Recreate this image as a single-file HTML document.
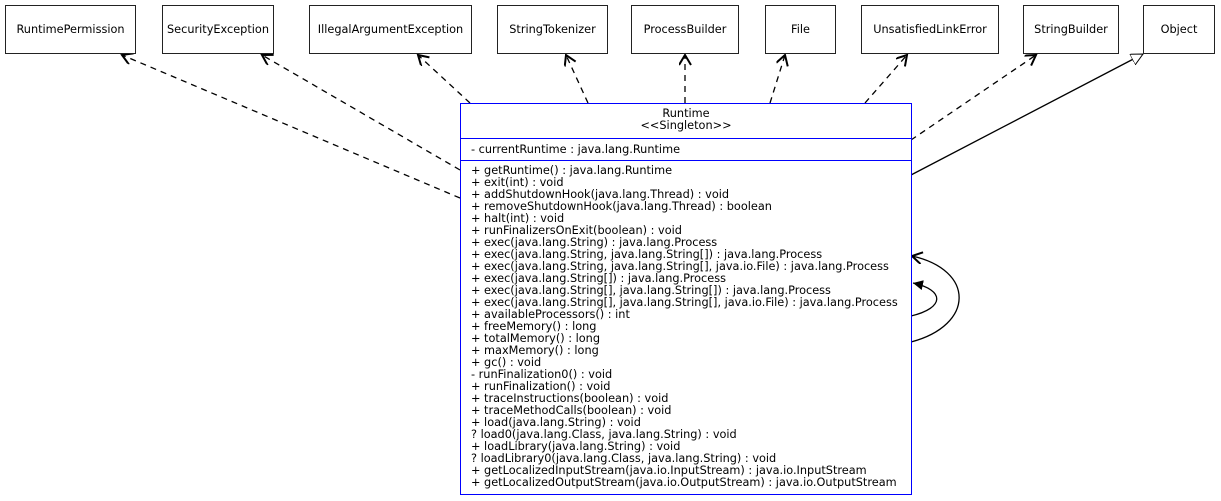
<!DOCTYPE html>
<html><head><meta charset="utf-8"><style>
body{margin:0;background:#fff;width:1221px;height:501px;overflow:hidden;position:relative;font-family:"DejaVu Sans","Liberation Sans",sans-serif;font-size:11.3px;color:#000}
.b{position:absolute;top:5px;height:49px;border:1.5px solid #222;box-sizing:border-box;display:flex;align-items:center;justify-content:center;background:#fff}
#rt{position:absolute;left:460px;top:103px;width:452px;height:392px;border:1.3px solid #00f;box-sizing:border-box;background:#fff}
.h{height:35px;border-bottom:1.3px solid #00f;text-align:center;line-height:12px;padding-top:4px;box-sizing:border-box}
.a{height:22px;border-bottom:1.3px solid #00f;padding-left:10px;line-height:21px;box-sizing:border-box}
.m{padding-left:10px;padding-top:4px;line-height:12px;white-space:pre}
svg{position:absolute;left:0;top:0}
</style></head><body>
<svg width="1221" height="501">
<defs>
<marker id="o" markerWidth="14" markerHeight="14" refX="11" refY="6" orient="auto" markerUnits="userSpaceOnUse"><path d="M1,0 L11,6 L1,12" fill="none" stroke="#000" stroke-width="2"/></marker>
<marker id="f" markerWidth="12" markerHeight="12" refX="10" refY="5" orient="auto" markerUnits="userSpaceOnUse"><path d="M0,0 L10,5 L0,10z" fill="#000"/></marker>
<marker id="t" markerWidth="14" markerHeight="14" refX="12" refY="6" orient="auto" markerUnits="userSpaceOnUse"><path d="M0,0 L12,6 L0,12z" fill="#fff" stroke="#000"/></marker>
</defs>
<g stroke="#000" stroke-width="1.3" fill="none" stroke-dasharray="6,5">
<line x1="460" y1="198" x2="122" y2="55" marker-end="url(#o)"/>
<line x1="460" y1="170" x2="262" y2="55" marker-end="url(#o)"/>
<line x1="470" y1="103" x2="418" y2="55" marker-end="url(#o)"/>
<line x1="588" y1="103" x2="566" y2="55" marker-end="url(#o)"/>
<line x1="685" y1="103" x2="685" y2="55" marker-end="url(#o)"/>
<line x1="770" y1="103" x2="785" y2="55" marker-end="url(#o)"/>
<line x1="865" y1="103" x2="907" y2="55" marker-end="url(#o)"/>
<line x1="911" y1="140" x2="1036" y2="55" marker-end="url(#o)"/>
</g>
<g stroke="#000" stroke-width="1.3" fill="none">
<line x1="911" y1="175" x2="1143" y2="54" marker-end="url(#t)"/>
<path d="M911,342 C975,325 975,270 912,256" marker-end="url(#o)"/>
<path d="M911,316 C945,308 945,290 913,283" marker-end="url(#f)"/>
</g>
</svg>
<div class="b" style="left:5px;width:131px">RuntimePermission</div>
<div class="b" style="left:162px;width:112px">SecurityException</div>
<div class="b" style="left:309px;width:163px">IllegalArgumentException</div>
<div class="b" style="left:497px;width:111px">StringTokenizer</div>
<div class="b" style="left:631px;width:108px">ProcessBuilder</div>
<div class="b" style="left:765px;width:71px">File</div>
<div class="b" style="left:861px;width:138px">UnsatisfiedLinkError</div>
<div class="b" style="left:1023px;width:96px">StringBuilder</div>
<div class="b" style="left:1143px;width:72px">Object</div>
<div id="rt">
<div class="h">Runtime<br>&lt;&lt;Singleton&gt;&gt;</div>
<div class="a">- currentRuntime : java.lang.Runtime</div>
<div class="m">+ getRuntime() : java.lang.Runtime
+ exit(int) : void
+ addShutdownHook(java.lang.Thread) : void
+ removeShutdownHook(java.lang.Thread) : boolean
+ halt(int) : void
+ runFinalizersOnExit(boolean) : void
+ exec(java.lang.String) : java.lang.Process
+ exec(java.lang.String, java.lang.String[]) : java.lang.Process
+ exec(java.lang.String, java.lang.String[], java.io.File) : java.lang.Process
+ exec(java.lang.String[]) : java.lang.Process
+ exec(java.lang.String[], java.lang.String[]) : java.lang.Process
+ exec(java.lang.String[], java.lang.String[], java.io.File) : java.lang.Process
+ availableProcessors() : int
+ freeMemory() : long
+ totalMemory() : long
+ maxMemory() : long
+ gc() : void
- runFinalization0() : void
+ runFinalization() : void
+ traceInstructions(boolean) : void
+ traceMethodCalls(boolean) : void
+ load(java.lang.String) : void
? load0(java.lang.Class, java.lang.String) : void
+ loadLibrary(java.lang.String) : void
? loadLibrary0(java.lang.Class, java.lang.String) : void
+ getLocalizedInputStream(java.io.InputStream) : java.io.InputStream
+ getLocalizedOutputStream(java.io.OutputStream) : java.io.OutputStream</div>
</div>
</body></html>
